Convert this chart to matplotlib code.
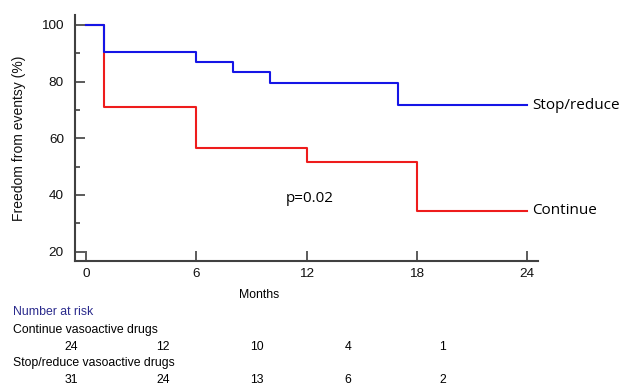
import matplotlib
matplotlib.use("Agg")
import matplotlib.pyplot as plt
from matplotlib.ticker import MultipleLocator

# ---- data ----
stop_t = [0, 1, 6, 8, 10, 17, 24]
stop_s = [100, 90.3, 87.0, 83.4, 79.5, 71.6, 71.6]
cont_t = [0, 1, 6, 12, 18, 24]
cont_s = [100, 70.9, 56.6, 51.5, 34.5, 34.5]
x_ticks = [0, 6, 12, 18, 24]
y_ticks = [20, 40, 60, 80, 100]
risk_groups = ["Continue vasoactive drugs", "Stop/reduce vasoactive drugs"]
risk_continue = [24, 12, 10, 4, 1]
risk_stop = [31, 24, 13, 6, 2]

W, H = 623, 391
fig = plt.figure(figsize=(W / 100, H / 100), dpi=100)

def fx(px):
    return px / W

def fy(py):
    return 1 - py / H

ax = fig.add_axes([fx(75), fy(261), fx(538) - fx(75), fy(15) - fy(261)])
ax.step(cont_t, cont_s, where="post", color="#ee1c1c", lw=1.5)
ax.step(stop_t, stop_s, where="post", color="#1515e6", lw=1.5)

ax.set_xlim(-0.6, 24.6)
ax.set_ylim(16.7, 103.5)
ax.set_xticks(x_ticks)
ax.set_yticks(y_ticks)
ax.yaxis.set_minor_locator(MultipleLocator(10))
for s in ["top", "right"]:
    ax.spines[s].set_visible(False)
for s in ["left", "bottom"]:
    ax.spines[s].set_color("#404040")
    ax.spines[s].set_linewidth(1.5)
ax.tick_params(axis="both", which="major", direction="in", length=7, width=1.2,
               color="#404040", labelsize=9.7, labelfontfamily="Liberation Sans",
               labelcolor="#111111")
ax.tick_params(axis="y", which="minor", direction="in", length=3.5, width=1.2, color="#404040")
ax.tick_params(axis="y", pad=8)
ax.tick_params(axis="x", pad=5)

ax.set_ylabel("Freedom from eventsy (%)", fontsize=10, family="Liberation Sans", labelpad=11,
              color="#111111")

ax.text(24.3, stop_s[-1], "Stop/reduce", fontsize=11, family="Open Sans",
        va="center", ha="left", clip_on=False)
ax.text(24.3, cont_s[-1], "Continue", fontsize=11, family="Open Sans",
        va="center", ha="left", clip_on=False)
ax.text(12.15, 38.6, "p=0.02", fontsize=11, family="Open Sans", va="center", ha="center")

fig.text(fx(259), fy(295), "Months", fontsize=8.8, family="Liberation Sans", ha="center", va="center")
fig.text(fx(13), fy(312), "Number at risk", fontsize=8.8, family="Liberation Sans",
         color="#2a2a8c", ha="left", va="center")
cols_x = [71, 163, 257, 348, 443]
fig.text(fx(13), fy(330), risk_groups[0], fontsize=8.8, family="Liberation Sans", ha="left", va="center")
for x, v in zip(cols_x, risk_continue):
    fig.text(fx(x), fy(347), str(v), fontsize=8.8, family="Liberation Sans", ha="center", va="center")
fig.text(fx(13), fy(363), risk_groups[1], fontsize=8.8, family="Liberation Sans", ha="left", va="center")
for x, v in zip(cols_x, risk_stop):
    fig.text(fx(x), fy(380), str(v), fontsize=8.8, family="Liberation Sans", ha="center", va="center")

fig.savefig("out.png", dpi=100)
